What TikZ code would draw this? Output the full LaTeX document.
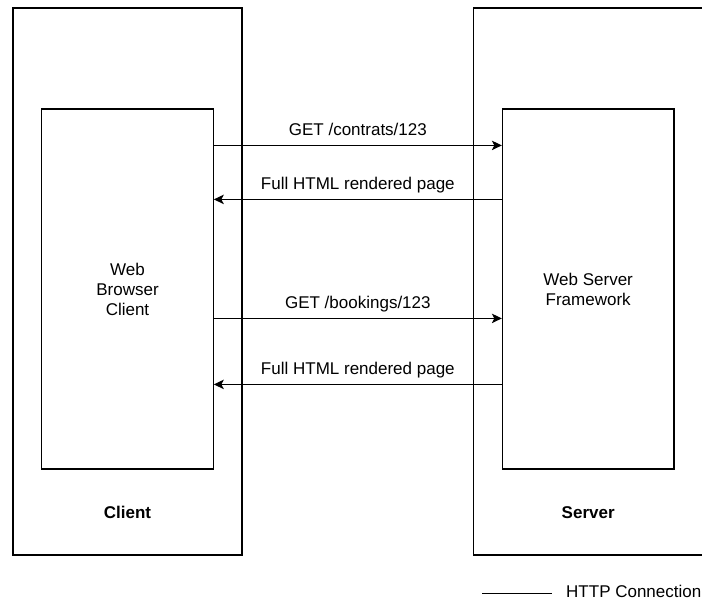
\documentclass[tikz,border=0pt]{standalone}
\usepackage{fontspec}
\setmainfont{Liberation Sans}
\usetikzlibrary{positioning,arrows.meta}

\begin{document}
\begin{tikzpicture}[x=1pt,y=-1pt,
    font=\fontsize{17}{20}\selectfont,
    outerbox/.style={draw,line width=1.2pt,minimum width=229pt,minimum height=547pt},
    innerbox/.style={draw,line width=1.2pt,minimum width=171.5pt,minimum height=360pt,align=center},
    msg/.style={text height=12pt,text depth=4pt},
    >={Stealth[length=10pt,width=9.5pt,inset=2.5pt]}]
  \useasboundingbox (0,0) rectangle (702,603);

  % Client
  \node [outerbox] (client) at (127.5,281.5) {};
  \node [innerbox,below=101pt of client.north] (browser) {Web\\Browser\\Client};
  \node [msg,font=\fontsize{17}{20}\selectfont\bfseries,above=30pt of client.south] (clientname) {Client};

  % Server
  \node [outerbox,right=230.5pt of client] (server) {};
  \node [innerbox,right=288pt of browser] (framework) {Web Server\\Framework};
  \node [msg,font=\fontsize{17}{20}\selectfont\bfseries,above=30pt of server.south] (servername) {Server};

  % Message 1
  \node [coordinate,below=37pt of browser.north east] (a1) {};
  \node [coordinate,right=288pt of a1] (b1) {};
  \draw [->,line width=1.2pt] (a1) -- node [msg,above=1.5pt,midway] (m1) {GET /contrats/123} (b1);

  % Message 2
  \node [coordinate,below=54pt of b1] (b2) {};
  \node [coordinate,left=288pt of b2] (a2) {};
  \draw [->,line width=1.2pt] (b2) -- node [msg,above=1.5pt,midway] (m2) {Full HTML rendered page} (a2);

  % Message 3
  \node [coordinate,below=119pt of a2] (a3) {};
  \node [coordinate,right=288pt of a3] (b3) {};
  \draw [->,line width=1.2pt] (a3) -- node [msg,above=1.5pt,midway] (m3) {GET /bookings/123} (b3);

  % Message 4
  \node [coordinate,below=66pt of b3] (b4) {};
  \node [coordinate,left=288pt of b4] (a4) {};
  \draw [->,line width=1.2pt] (b4) -- node [msg,above=1.5pt,midway] (m4) {Full HTML rendered page} (a4);

  % Legend
  \node [coordinate] (l1) at (482,593) {};
  \node [coordinate,right=70pt of l1] (l2) {};
  \draw [line width=1pt] (l1) -- (l2);
  \node [msg,inner sep=0pt,right=14pt of l2] (legend) {HTTP Connection};

\end{tikzpicture}
\end{document}
